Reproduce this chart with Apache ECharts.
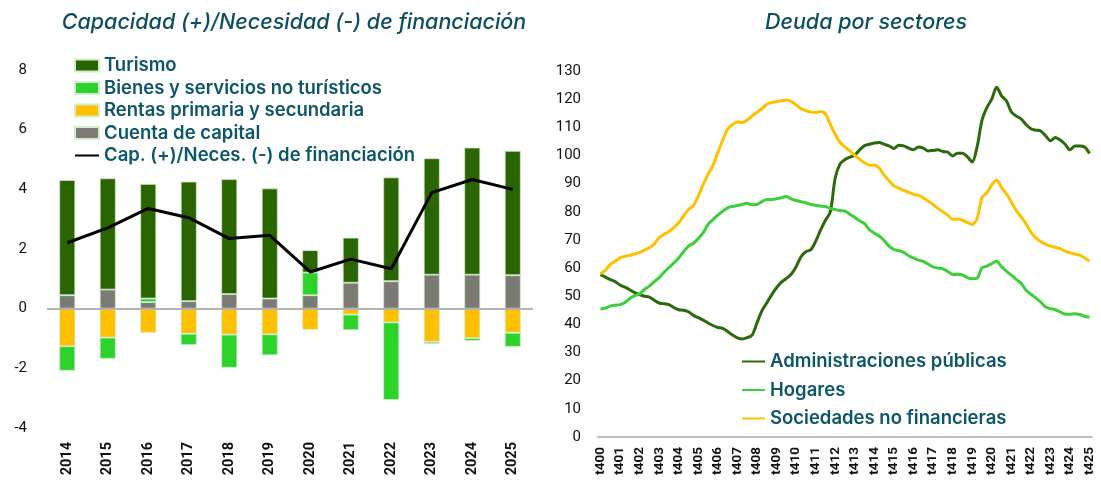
<!DOCTYPE html>
<html>
<head>
<meta charset="utf-8">
<script src="https://cdn.jsdelivr.net/npm/echarts@6/dist/echarts.min.js"></script>
<style>
  html, body { margin: 0; padding: 0; background: #fff; }
  #chart { width: 1101px; height: 491px; }
</style>
</head>
<body>
<div id="chart"></div>
<script>
// left panel: capacidad / necesidad de financiacion (% PIB)
const years = ['2014', '2015', '2016', '2017', '2018', '2019', '2020', '2021', '2022', '2023', '2024', '2025'];
const turismo = [3.86, 3.73, 3.84, 4.01, 3.85, 3.69, 0.75, 1.51, 3.48, 3.90, 4.26, 4.17];
const bienes = [-0.82, -0.71, 0.12, -0.38, -1.11, -0.70, 0.76, -0.52, -2.60, -0.07, -0.09, -0.47];
const rentas = [-1.26, -0.97, -0.81, -0.84, -0.87, -0.86, -0.71, -0.20, -0.46, -1.11, -0.99, -0.81];
const capital = [0.45, 0.64, 0.22, 0.25, 0.49, 0.34, 0.45, 0.87, 0.92, 1.14, 1.14, 1.12];
const capNec = [2.21, 2.71, 3.36, 3.05, 2.35, 2.46, 1.23, 1.66, 1.34, 3.89, 4.33, 4.00];

// right panel: deuda por sectores, trimestral (t4 2000 .. t4 2025)
const quarters = [];
for (let y = 0; y <= 25; y++) {
    const yy = String(y).padStart(2, '0');
    for (let q = 1; q <= 4; q++) {
        if (y === 0 && q < 4) continue;
        quarters.push('t' + q + yy);
    }
}
quarters.splice(101); // hasta t425
const admPublicas = [
    57.7, 56.8, 55.9, 55.2, 54.0, 53.2, 52.3, 51.3, 50.6, 50.0,
    49.7, 48.6, 47.6, 47.3, 47.0, 46.0, 45.2, 45.0, 44.5, 43.2,
    42.4, 41.5, 40.5, 39.6, 38.9, 38.6, 37.5, 36.2, 35.2, 34.8,
    35.3, 36.2, 40.5, 44.8, 47.6, 50.5, 53.0, 55.0, 56.3, 57.8,
    60.5, 64.0, 65.8, 66.5, 69.5, 73.5, 77.0, 80.0, 92.0, 97.0,
    98.6, 99.4, 100.1, 102.0, 103.5, 104.0, 104.4, 104.6, 104.0, 103.4,
    102.5, 103.6, 103.4, 102.6, 102.0, 103.0, 102.6, 101.6, 101.8, 102.0,
    101.4, 101.2, 99.8, 100.8, 100.8, 99.6, 97.7, 103.0, 112.5, 117.0,
    120.0, 124.2, 121.2, 119.4, 115.5, 114.0, 113.0, 111.0, 109.5, 109.0,
    108.7, 107.0, 105.2, 106.4, 105.5, 104.0, 102.0, 103.4, 103.4, 103.0,
    100.7
];
const hogares = [
    45.5, 45.8, 46.5, 46.8, 47.0, 47.8, 49.2, 50.2, 50.8, 52.4,
    53.6, 55.2, 56.6, 58.5, 60.2, 61.8, 63.6, 65.8, 67.8, 68.8,
    70.5, 72.5, 75.5, 77.2, 78.8, 80.2, 81.4, 81.9, 82.2, 82.6,
    83.0, 82.5, 82.6, 83.6, 84.4, 84.4, 84.6, 85.0, 85.4, 84.6,
    84.0, 83.6, 83.2, 82.6, 82.3, 82.0, 81.9, 81.2, 80.8, 80.4,
    80.2, 79.1, 78.0, 76.8, 75.8, 73.6, 72.4, 71.4, 69.8, 67.8,
    66.6, 66.2, 65.6, 64.4, 63.6, 62.8, 62.4, 61.4, 60.4, 60.0,
    59.7, 58.8, 57.7, 57.8, 57.6, 56.6, 56.2, 56.4, 60.1, 60.7,
    61.6, 62.4, 60.5, 58.9, 57.5, 56.0, 54.6, 52.2, 50.7, 49.4,
    48.0, 46.2, 45.6, 45.2, 44.4, 43.7, 43.6, 43.8, 43.5, 42.9,
    42.6
];
const sociedades = [
    58.0, 59.2, 61.3, 62.4, 63.6, 64.2, 64.5, 65.0, 65.6, 66.4,
    67.2, 68.6, 70.8, 72.0, 73.0, 74.4, 76.1, 78.5, 80.8, 82.2,
    85.5, 89.7, 93.3, 96.5, 101.0, 105.5, 109.3, 111.0, 111.9, 111.7,
    112.6, 114.0, 115.3, 116.6, 118.2, 118.8, 119.1, 119.4, 119.7, 119.2,
    118.0, 116.6, 116.0, 115.4, 115.3, 115.6, 114.8, 111.0, 107.5, 104.6,
    103.0, 101.6, 100.0, 98.6, 97.4, 96.5, 96.6, 95.5, 93.0, 91.0,
    89.2, 88.4, 87.6, 86.9, 86.2, 85.8, 85.0, 83.8, 82.6, 81.2,
    80.0, 78.8, 77.3, 77.4, 77.0, 76.2, 75.5, 77.5, 85.0, 86.8,
    89.5, 91.2, 88.6, 86.4, 83.5, 80.5, 78.2, 75.8, 72.8, 70.8,
    69.4, 68.5, 67.8, 67.4, 66.9, 66.0, 65.4, 65.0, 64.6, 63.6,
    62.4
];

const C_TUR = '#2a6502';
const C_BIEN = '#2dd22b';
const C_RENT = '#ffc000';
const C_CAP = '#7b7b73';
const TEAL = '#0d5668';
const barBorder = { borderColor: '#d4ecd0', borderWidth: 0.8 };
const legendFont = { fontFamily: 'Inter', fontWeight: 600, fontSize: 18.5, color: TEAL, lineHeight: 18 };
// line legend items: keep the line, hide the marker
const noMarker = { color: 'transparent', borderColor: 'transparent', borderWidth: 0, opacity: 0 };

const chart = echarts.init(document.getElementById('chart'));

const barSeries = (name, data, color) => ({
    name,
    type: 'bar',
    stack: 'cuenta',
    data,
    barWidth: 16,
    xAxisIndex: 0,
    yAxisIndex: 0,
    itemStyle: { color, ...barBorder }
});

const lineSeries = (name, data, color) => ({
    name,
    type: 'line',
    data,
    xAxisIndex: 1,
    yAxisIndex: 1,
    symbol: 'none',
    smooth: 0.3,
    lineStyle: { color, width: 3 },
    itemStyle: { color }
});

const option = {
    animation: false,
    title: [
        {
            text: 'Capacidad (+)/Necesidad (-) de financiación',
            left: 289, top: 7, textAlign: 'center',
            textStyle: { fontFamily: 'Inter', fontStyle: 'italic', fontWeight: 500, fontSize: 21.5, color: '#0b4f5e' }
        },
        {
            text: 'Deuda por sectores',
            left: 861, top: 7, textAlign: 'center',
            textStyle: { fontFamily: 'Inter', fontStyle: 'italic', fontWeight: 500, fontSize: 21.5, color: '#0b4f5e' }
        }
    ],
    legend: [
        {
            orient: 'vertical',
            left: 74, top: 56, padding: 0,
            itemWidth: 24, itemHeight: 12, itemGap: 3.5,
            textStyle: legendFont,
            data: [
                { name: 'Turismo', icon: 'rect' },
                { name: 'Bienes y servicios no turísticos', icon: 'rect' },
                { name: 'Rentas primaria y secundaria', icon: 'rect' },
                { name: 'Cuenta de capital', icon: 'rect' },
                { name: 'Cap. (+)/Neces. (-) de financiación', itemStyle: noMarker }
            ]
        },
        {
            orient: 'vertical',
            left: 741, top: 352, padding: 0,
            itemWidth: 23, itemHeight: 12, itemGap: 9.5,
            textStyle: legendFont,
            data: [
                { name: 'Administraciones públicas', itemStyle: noMarker },
                { name: 'Hogares', itemStyle: noMarker },
                { name: 'Sociedades no financieras', itemStyle: noMarker }
            ]
        }
    ],
    grid: [
        { left: 47, right: 568, top: 70, bottom: 63 },
        { left: 598, right: 9, top: 71, bottom: 54 }
    ],
    xAxis: [
        {
            type: 'category',
            gridIndex: 0,
            data: years,
            axisLine: { show: false, onZero: false },
            axisTick: { show: false },
            axisLabel: { rotate: 90, margin: 14, fontFamily: 'Roboto', fontWeight: 'bold', fontSize: 14.5, color: '#111' }
        },
        {
            type: 'category',
            gridIndex: 1,
            data: quarters,
            boundaryGap: true,
            axisLine: { lineStyle: { color: '#a6a6a6', width: 1.5 } },
            axisTick: { show: false },
            axisLabel: { interval: 3, rotate: 90, margin: 10, fontFamily: 'Roboto', fontWeight: 'bold', fontSize: 13.5, color: '#111' }
        }
    ],
    yAxis: [
        {
            type: 'value',
            gridIndex: 0,
            min: -4, max: 8, interval: 2,
            splitLine: { show: false },
            axisLine: { show: false },
            axisTick: { show: false },
            axisLabel: { margin: 20, fontFamily: 'Roboto', fontSize: 15, color: '#111' }
        },
        {
            type: 'value',
            gridIndex: 1,
            min: 0, max: 130, interval: 10,
            splitLine: { show: false },
            axisLine: { show: false },
            axisTick: { show: false },
            axisLabel: { margin: 17, fontFamily: 'Roboto', fontSize: 15, color: '#111' }
        }
    ],
    series: [
        {
            ...barSeries('Cuenta de capital', capital, C_CAP),
            markLine: {
                silent: true,
                symbol: 'none',
                label: { show: false },
                lineStyle: { color: '#b3b3b3', width: 2, type: 'solid' },
                data: [{ yAxis: 0 }]
            }
        },
        barSeries('Rentas primaria y secundaria', rentas, C_RENT),
        barSeries('Bienes y servicios no turísticos', bienes, C_BIEN),
        barSeries('Turismo', turismo, C_TUR),
        {
            name: 'Cap. (+)/Neces. (-) de financiación',
            type: 'line',
            data: capNec,
            xAxisIndex: 0,
            yAxisIndex: 0,
            symbol: 'none',
            z: 5,
            lineStyle: { color: '#000', width: 3 },
            itemStyle: { color: '#000' }
        },
        lineSeries('Administraciones públicas', admPublicas, '#2b6a0a'),
        lineSeries('Hogares', hogares, '#3ccf3a'),
        lineSeries('Sociedades no financieras', sociedades, '#ffc000')
    ]
};

chart.setOption(option);
</script>
</body>
</html>
